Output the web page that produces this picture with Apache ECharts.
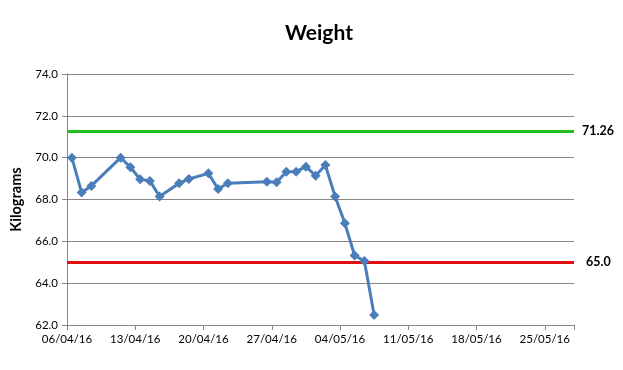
<!DOCTYPE html>
<html>
<head>
<meta charset="utf-8">
<script src="https://cdn.jsdelivr.net/npm/echarts@6/dist/echarts.min.js"></script>
<style>
html,body{margin:0;padding:0;background:#fff;}
#chart{width:623px;height:370px;}
</style>
</head>
<body>
<div id="chart"></div>
<script>
// Data
const dates = ["06/04/16","07/04/16","08/04/16","11/04/16","12/04/16","13/04/16","14/04/16","15/04/16",
  "17/04/16","18/04/16","20/04/16","21/04/16","22/04/16","26/04/16","27/04/16","28/04/16","29/04/16",
  "30/04/16","01/05/16","02/05/16","03/05/16","04/05/16","05/05/16","06/05/16","07/05/16"];
const weights = [70.0,68.33,68.65,70.0,69.54,68.97,68.89,68.14,
  68.78,68.98,69.25,68.50,68.78,68.85,68.82,69.33,69.33,
  69.57,69.14,69.65,68.14,66.86,65.32,65.06,62.48];
const targetHigh = 71.26;
const targetLow = 65.0;
const xTickLabels = ["06/04/16","13/04/16","20/04/16","27/04/16","04/05/16","11/05/16","18/05/16","25/05/16"];
const yTicks = [62,64,66,68,70,72,74];

const DAY = 86400000;
function parseD(s){const p=s.split('/');return Date.UTC(2000+ +p[2], +p[1]-1, +p[0]);}
const start = parseD(xTickLabels[0]);
// Excel date axis places each point in the middle of its day slot
const seriesData = dates.map((d,i)=>[(parseD(d)-start)/DAY + 0.5, weights[i]]);
function fmtDay(v){
  const d = new Date(start + v*DAY);
  const dd = String(d.getUTCDate()).padStart(2,'0');
  const mm = String(d.getUTCMonth()+1).padStart(2,'0');
  const yy = String(d.getUTCFullYear()%100).padStart(2,'0');
  return dd+'/'+mm+'/'+yy;
}

const font = 'Lato, "Open Sans", "DejaVu Sans", sans-serif';
const chart = echarts.init(document.getElementById('chart'), null, {renderer:'canvas'});
chart.setOption({
  animation:false,
  backgroundColor:'#ffffff',
  title:{text:'Weight', left:314, top:18, textAlign:'center',
    textStyle:{fontFamily:font, fontSize:21, fontWeight:'bold', color:'#000'}},
  grid:{left:67, right:49, top:74, bottom:45},
  xAxis:{type:'value', min:0, max:52, interval:7,
    axisLine:{show:true, lineStyle:{color:'#868686', width:1}},
    axisTick:{show:true, length:5, lineStyle:{color:'#868686'}},
    splitLine:{show:false},
    axisLabel:{fontFamily:font, fontSize:11.5, color:'#000', margin:8,
      formatter:function(v){return v%7===0 && v<=49 ? fmtDay(v) : '';}}},
  yAxis:{type:'value', min:yTicks[0], max:yTicks[yTicks.length-1], interval:2,
    name:'Kilograms', nameLocation:'middle', nameGap:43,
    nameTextStyle:{fontFamily:font, fontSize:14.5, fontWeight:'bold', color:'#000'},
    axisLine:{show:true, lineStyle:{color:'#868686', width:1}},
    axisTick:{show:true, length:5, lineStyle:{color:'#868686'}},
    splitLine:{show:true, lineStyle:{color:'#868686', width:1}},
    axisLabel:{fontFamily:font, fontSize:11.5, color:'#000', margin:9,
      formatter:function(v){return v.toFixed(1);}}},
  series:[{
    type:'line', data:seriesData, symbol:'diamond', symbolSize:10,
    lineStyle:{color:'#4A7EBB', width:3},
    itemStyle:{color:'#4A7EBB'},
    z:5,
    markLine:{silent:true, symbol:['none','none'], animation:false,
      data:[
        {yAxis:targetHigh, lineStyle:{color:'#1FBF1F', width:3, type:'solid'},
          label:{show:true, position:'end', distance:8, formatter:targetHigh.toFixed(2),
            fontFamily:font, fontSize:12.5, fontWeight:'bold', color:'#000'}},
        {yAxis:targetLow, lineStyle:{color:'#E01010', width:3, type:'solid'},
          label:{show:true, position:'end', distance:12, formatter:targetLow.toFixed(1),
            fontFamily:font, fontSize:12.5, fontWeight:'bold', color:'#000'}}
      ]}
  }]
});
</script>
</body>
</html>
